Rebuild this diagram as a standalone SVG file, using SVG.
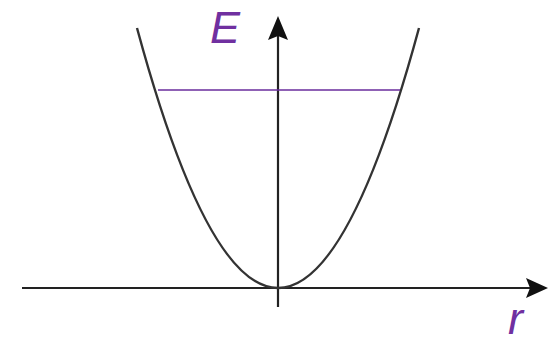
<svg xmlns="http://www.w3.org/2000/svg" width="551" height="344" viewBox="0 0 551 344">
<style>
.axis{stroke:#222;stroke-width:2.2;fill:none}
.head{fill:#111}
.curve{stroke:#333;stroke-width:2.4;fill:none}
.level{stroke:#6a2c9c;stroke-width:1.6}
.lbl{font-family:"Liberation Sans",Arial,sans-serif;font-style:italic;font-size:45px;fill:#7030a0}
</style>
<rect width="551" height="344" fill="#ffffff"/>
<g id="connectors">
<line class="axis" x1="22" y1="288" x2="530" y2="288"/>
<polygon class="head" points="548,288 526,278 530,288 526,298"/>
<line class="axis" x1="278" y1="307" x2="278" y2="34"/>
<polygon class="head" points="278,16 268,40 278,36 288,40"/>
</g>
<g id="curve">
<path class="curve" d="M137,28 Q278,548 419,28"/>
</g>
<g id="level">
<line class="level" x1="158" y1="90" x2="400" y2="90"/>
</g>
<g id="label-E">
<text class="lbl" x="210" y="43">E</text>
</g>
<g id="label-r">
<text class="lbl" x="508" y="334" font-size="44">r</text>
</g>
</svg>
